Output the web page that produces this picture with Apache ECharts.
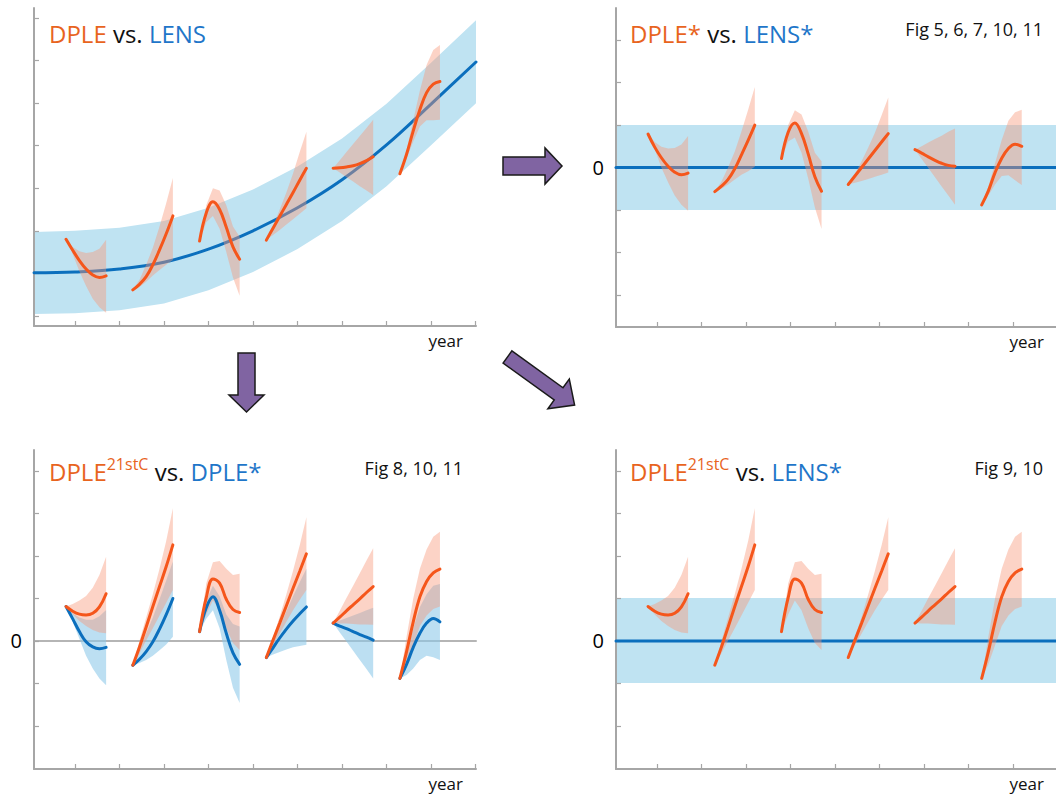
<!DOCTYPE html>
<html><head><meta charset="utf-8">
<script src="https://cdn.jsdelivr.net/npm/echarts@6/dist/echarts.min.js"></script>
<style>html,body{margin:0;padding:0;background:#fff}#c{width:1056px;height:794px}</style>
</head><body><div id="c"></div>
<script>
// ---------------- data ----------------
const segStart = [0.8, 2.3, 3.8, 5.3, 6.8, 8.3];
const segOffset = [0, 0.15, 0.3, 0.45, 0.6, 0.75, 0.9];

const xTicks = [1, 2, 3, 4, 5, 6, 7, 8, 9, 10];
const yTicks1 = [0, 1, 2, 3, 4, 5, 6, 7];
const yTicks2 = [-3, -2, -1, 0, 1, 2, 3];
const yTicks34 = [-2, -1, 0, 1, 2, 3, 4];

// Panel 1: LENS ensemble mean and spread
const lensX = [0.08, 1, 2, 3, 4, 5, 6, 7, 8, 9, 10.01];
const lensMean = [1.01, 1.03, 1.10, 1.26, 1.57, 2.00, 2.54, 3.20, 4.02, 4.98, 5.97];
const lensHi = [1.97, 2.00, 2.07, 2.23, 2.54, 2.97, 3.51, 4.17, 4.99, 5.95, 6.95];
const lensLo = [0.04, 0.06, 0.13, 0.29, 0.60, 1.03, 1.57, 2.23, 3.05, 4.01, 5.00];

// Panel 1: DPLE
const dpleMid = [
  [1.80, 1.54, 1.30, 1.10, 0.96, 0.90, 0.94],
  [0.61, 0.74, 0.92, 1.20, 1.55, 1.93, 2.35],
  [1.76, 2.42, 2.68, 2.50, 2.08, 1.62, 1.33],
  [1.78, 2.06, 2.34, 2.62, 2.90, 3.19, 3.47],
  [3.47, 3.48, 3.50, 3.53, 3.58, 3.65, 3.74],
  [3.34, 3.80, 4.35, 4.85, 5.25, 5.45, 5.51]
];
const dpleHi = [
  [1.80, 1.62, 1.52, 1.48, 1.50, 1.58, 1.79],
  [0.61, 0.85, 1.20, 1.60, 2.10, 2.65, 3.24],
  [1.76, 2.60, 3.00, 2.95, 2.60, 2.10, 1.86],
  [1.78, 2.10, 2.50, 2.90, 3.35, 3.85, 4.33],
  [3.47, 3.66, 3.85, 4.04, 4.23, 4.42, 4.61],
  [3.34, 3.90, 4.60, 5.30, 5.90, 6.25, 6.37]
];
const dpleLo = [
  [1.80, 1.45, 1.05, 0.70, 0.40, 0.20, 0.07],
  [0.61, 0.68, 0.80, 0.95, 1.08, 1.20, 1.31],
  [1.76, 2.20, 2.35, 2.05, 1.50, 0.90, 0.47],
  [1.78, 1.90, 2.02, 2.15, 2.27, 2.40, 2.53],
  [3.47, 3.37, 3.26, 3.16, 3.05, 2.95, 2.84],
  [3.34, 3.70, 4.10, 4.45, 4.60, 4.60, 4.61]
];

// Panel 2: DPLE* vs LENS*
const lensStarX = [0.08, 9.97];
const lensStarMean = [0, 0];
const lensStarHi = [1.0, 1.0];
const lensStarLo = [-1.0, -1.0];
const dpleStarMid = [
  [0.79, 0.48, 0.23, 0.03, -0.11, -0.17, -0.13],
  [-0.57, -0.44, -0.28, -0.03, 0.30, 0.64, 1.00],
  [0.21, 0.83, 1.05, 0.80, 0.32, -0.22, -0.56],
  [-0.40, -0.20, 0.00, 0.20, 0.40, 0.60, 0.80],
  [0.42, 0.34, 0.25, 0.17, 0.10, 0.05, 0.03],
  [-0.88, -0.55, -0.12, 0.22, 0.45, 0.55, 0.50]
];
const dpleStarHi = [
  [0.79, 0.60, 0.49, 0.45, 0.46, 0.54, 0.74],
  [-0.57, -0.33, 0.00, 0.38, 0.85, 1.36, 1.90],
  [0.21, 1.00, 1.35, 1.25, 0.85, 0.35, 0.15],
  [-0.40, -0.15, 0.15, 0.47, 0.82, 1.23, 1.65],
  [0.42, 0.50, 0.59, 0.67, 0.75, 0.84, 0.92],
  [-0.88, -0.45, 0.10, 0.65, 1.10, 1.30, 1.36]
];
const dpleStarLo = [
  [0.79, 0.43, 0.00, -0.35, -0.66, -0.88, -1.02],
  [-0.57, -0.50, -0.40, -0.28, -0.17, -0.09, 0.02],
  [0.21, 0.61, 0.71, 0.35, -0.26, -0.94, -1.45],
  [-0.40, -0.36, -0.32, -0.27, -0.22, -0.17, -0.12],
  [0.42, 0.20, -0.01, -0.23, -0.45, -0.66, -0.88],
  [-0.88, -0.66, -0.40, -0.20, -0.18, -0.30, -0.41]
];

// Panels 3 & 4: DPLE21stC
const d21Mid = [
  [0.81, 0.70, 0.63, 0.61, 0.65, 0.80, 1.11],
  [-0.57, -0.14, 0.33, 0.81, 1.28, 1.75, 2.26],
  [0.22, 1.02, 1.46, 1.36, 0.98, 0.74, 0.67],
  [-0.39, 0.02, 0.42, 0.83, 1.24, 1.64, 2.05],
  [0.42, 0.56, 0.71, 0.85, 0.99, 1.14, 1.28],
  [-0.88, -0.25, 0.45, 1.04, 1.40, 1.60, 1.69]
];
const d21Hi = [
  [0.81, 0.87, 0.95, 1.06, 1.25, 1.55, 1.98],
  [-0.57, 0.00, 0.55, 1.10, 1.70, 2.35, 3.12],
  [0.22, 1.35, 1.85, 1.88, 1.70, 1.55, 1.58],
  [-0.39, 0.08, 0.57, 1.10, 1.65, 2.25, 2.91],
  [0.42, 0.71, 1.01, 1.30, 1.59, 1.89, 2.18],
  [-0.88, 0.10, 1.00, 1.70, 2.15, 2.45, 2.57]
];
const d21Lo = [
  [0.81, 0.62, 0.47, 0.35, 0.26, 0.20, 0.18],
  [-0.57, -0.29, 0.01, 0.30, 0.60, 0.90, 1.20],
  [0.22, 0.62, 0.95, 0.72, 0.30, -0.05, -0.21],
  [-0.39, -0.10, 0.17, 0.45, 0.72, 0.97, 1.20],
  [0.42, 0.41, 0.41, 0.40, 0.39, 0.39, 0.38],
  [-0.88, -0.55, -0.10, 0.35, 0.60, 0.75, 0.81]
];

// Panel 3: DPLE* (blue)
const dsMid = [
  [0.81, 0.52, 0.22, -0.02, -0.14, -0.18, -0.15],
  [-0.57, -0.43, -0.25, -0.02, 0.28, 0.62, 1.00],
  [0.22, 0.78, 1.04, 0.72, 0.18, -0.28, -0.55],
  [-0.39, -0.16, 0.07, 0.28, 0.47, 0.64, 0.80],
  [0.42, 0.35, 0.29, 0.22, 0.15, 0.09, 0.02],
  [-0.88, -0.55, -0.15, 0.18, 0.42, 0.53, 0.45]
];
const dsHi = [
  [0.81, 0.65, 0.55, 0.50, 0.50, 0.58, 0.73],
  [-0.57, -0.20, 0.18, 0.55, 0.98, 1.42, 1.87],
  [0.22, 0.95, 1.30, 1.05, 0.62, 0.40, 0.34],
  [-0.39, -0.02, 0.33, 0.70, 1.05, 1.38, 1.70],
  [0.42, 0.48, 0.54, 0.60, 0.66, 0.72, 0.78],
  [-0.88, -0.30, 0.30, 0.80, 1.10, 1.30, 1.34]
];
const dsLo = [
  [0.81, 0.45, 0.05, -0.35, -0.65, -0.88, -1.04],
  [-0.57, -0.52, -0.45, -0.35, -0.22, -0.08, 0.10],
  [0.22, 0.52, 0.72, 0.30, -0.45, -1.10, -1.46],
  [-0.39, -0.32, -0.26, -0.20, -0.15, -0.12, -0.09],
  [0.42, 0.20, -0.01, -0.23, -0.45, -0.66, -0.88],
  [-0.88, -0.80, -0.65, -0.45, -0.35, -0.38, -0.45]
];

// Panel 4: LENS* band
const lens4X = [0.08, 9.97];
const lens4Mean = [0, 0];
const lens4Hi = [1.01, 1.01];
const lens4Lo = [-0.99, -0.99];
const zeroX = [0.08, 10.01];
const zeroY = [0, 0];

// ---------------- styles ----------------
const F = "'Open Sans', sans-serif";
const AX = '#a6a6a6';
const ORANGE = '#f5561b';
const BLUE = '#0b6fbd';
const BAND = '#bfe3f2';
const WEDGE_O = 'rgba(248,150,118,0.42)';
const WEDGE_B = 'rgba(140,200,232,0.58)';
const T_OR = '#e8641e', T_BL = '#1f76c9';

const grids = [
  {left: 34, top: 8, width: 442, height: 318},
  {left: 616, top: 8, width: 440, height: 319},
  {left: 34, top: 450, width: 442, height: 319},
  {left: 616, top: 450, width: 440, height: 319}
];
const xMax = [10.01, 9.97, 10.01, 9.97];
const yRange = [[-0.24, 7.24], [-3.76, 3.76], [-3.01, 4.49], [-3.01, 4.49]];
const yTickSets = [yTicks1, yTicks2, yTicks34, yTicks34];

const xAxes = grids.map((g, i) => ({
  type: 'value', gridIndex: i, min: 0.08, max: xMax[i], z: 2,
  axisLine: {onZero: false, lineStyle: {color: AX, width: 2}},
  axisTick: {show: true, inside: true, length: 5, customValues: xTicks, lineStyle: {color: AX, width: 1.2}},
  axisLabel: {show: false}, splitLine: {show: false},
  name: 'year', nameLocation: 'end', nameGap: (i % 2) ? -12 : -13,
  nameTextStyle: {fontFamily: F, fontSize: 17, color: '#111', align: 'right', verticalAlign: 'top', padding: [6, 0, 0, 0]}
}));
const yAxes = grids.map((g, i) => ({
  type: 'value', gridIndex: i, min: yRange[i][0], max: yRange[i][1], z: 2,
  axisLine: {onZero: false, lineStyle: {color: AX, width: 2}},
  axisTick: {show: true, inside: true, length: 5, customValues: yTickSets[i], lineStyle: {color: AX, width: 1.2}},
  axisLabel: i === 0 ? {show: false} : {show: true, customValues: [0], fontFamily: F, fontSize: 20, color: '#000', margin: 12},
  splitLine: {show: false}
}));

function bandSeries(gi, xs, hi, lo, color, z) {
  return {
    type: 'custom', xAxisIndex: gi, yAxisIndex: gi, z, silent: true, animation: false,
    data: xs.map((x, k) => [x, lo[k], hi[k]]),
    renderItem(params, api) {
      if (params.dataIndex !== 0) return null;
      const pts = [];
      for (let k = 0; k < xs.length; k++) pts.push(api.coord([xs[k], hi[k]]));
      for (let k = xs.length - 1; k >= 0; k--) pts.push(api.coord([xs[k], lo[k]]));
      return {type: 'polygon', shape: {points: pts}, style: {fill: color}};
    }
  };
}
function wedgeSeries(gi, hi, lo, color, z) {
  return {
    type: 'custom', xAxisIndex: gi, yAxisIndex: gi, z, silent: true, animation: false,
    data: segStart.map((s, i) => [s, i]),
    renderItem(params, api) {
      const s = api.value(0), i = api.value(1);
      const pts = [];
      segOffset.forEach((o, k) => pts.push(api.coord([s + o, hi[i][k]])));
      for (let k = segOffset.length - 1; k >= 0; k--) pts.push(api.coord([s + segOffset[k], lo[i][k]]));
      return {type: 'polygon', shape: {points: pts}, style: {fill: color}};
    }
  };
}
function lineSeries(gi, xs, ys, color, width, z, smooth) {
  return {
    type: 'line', xAxisIndex: gi, yAxisIndex: gi, z, silent: true, animation: false,
    symbol: 'none', smooth: smooth, lineStyle: {color, width, cap: 'round'},
    data: xs.map((x, k) => [x, ys[k]])
  };
}
function segLines(gi, mid, color, z) {
  return mid.map((ys, i) => lineSeries(gi, segOffset.map(o => segStart[i] + o), ys, color, 3, z, 0.4));
}

const series = [
  // panel 1
  bandSeries(0, lensX, lensHi, lensLo, BAND, 1),
  lineSeries(0, lensX, lensMean, BLUE, 3, 3, 0.4),
  wedgeSeries(0, dpleHi, dpleLo, WEDGE_O, 4),
  ...segLines(0, dpleMid, ORANGE, 6),
  // panel 2
  bandSeries(1, lensStarX, lensStarHi, lensStarLo, BAND, 1),
  lineSeries(1, lensStarX, lensStarMean, BLUE, 3, 3, false),
  wedgeSeries(1, dpleStarHi, dpleStarLo, WEDGE_O, 4),
  ...segLines(1, dpleStarMid, ORANGE, 6),
  // panel 3
  lineSeries(2, zeroX, zeroY, '#b5b5b5', 2, 1, false),
  wedgeSeries(2, dsHi, dsLo, WEDGE_B, 3),
  wedgeSeries(2, d21Hi, d21Lo, WEDGE_O, 4),
  ...segLines(2, dsMid, BLUE, 5),
  ...segLines(2, d21Mid, ORANGE, 6),
  // panel 4
  bandSeries(3, lens4X, lens4Hi, lens4Lo, BAND, 1),
  lineSeries(3, lens4X, lens4Mean, BLUE, 3, 3, false),
  wedgeSeries(3, d21Hi, d21Lo, WEDGE_O, 4),
  ...segLines(3, d21Mid, ORANGE, 6)
];

const rich = {
  o: {color: T_OR, fontSize: 24, fontFamily: F, lineHeight: 30},
  s: {color: T_OR, fontSize: 16, fontFamily: F, lineHeight: 24, verticalAlign: 'top'},
  k: {color: '#111', fontSize: 24, fontFamily: F, lineHeight: 30},
  b: {color: T_BL, fontSize: 24, fontFamily: F, lineHeight: 30}
};
const tStyle = {fontFamily: F, fontSize: 24, fontWeight: 'normal', lineHeight: 30, color: '#111', rich};
const fStyle = {fontFamily: F, fontSize: 18, fontWeight: 'normal', lineHeight: 24, color: '#111'};

const title = [
  {left: 49, top: 18, padding: 0, text: '{o|DPLE} {k|vs.} {b|LENS}', textStyle: tStyle},
  {left: 630, top: 18, padding: 0, text: '{o|DPLE*} {k|vs.} {b|LENS*}', textStyle: tStyle},
  {left: 49, top: 456, padding: 0, text: '{o|DPLE}{s|21stC} {k|vs.} {b|DPLE*}', textStyle: tStyle},
  {left: 630, top: 456, padding: 0, text: '{o|DPLE}{s|21stC} {k|vs.} {b|LENS*}', textStyle: tStyle},
  {right: 13, top: 17, padding: 0, text: 'Fig 5, 6, 7, 10, 11', textStyle: fStyle},
  {right: 593, top: 456, padding: 0, text: 'Fig 8, 10, 11', textStyle: fStyle},
  {right: 13, top: 456, padding: 0, text: 'Fig 9, 10', textStyle: fStyle}
];

const arrowStyle = {fill: '#8064a2', stroke: '#1a1a1a', lineWidth: 1.5};
const graphic = [
  {type: 'polygon', shape: {points: [[503,157],[545,157],[545,148],[562,166],[545,184],[545,175],[503,175]]}, style: arrowStyle},
  {type: 'polygon', shape: {points: [[238,353],[255,353],[255,395],[264,395],[246.5,412],[229,395],[238,395]]}, style: arrowStyle},
  {type: 'polygon', shape: {points: [[511.9,350.9],[563,387.8],[569.3,379.1],[574.6,405],[547.9,408.7],[554.2,400],[503.1,363.1]]}, style: arrowStyle}
];

const chart = echarts.init(document.getElementById('c'), null, {renderer: 'svg'});
chart.setOption({
  animation: false,
  backgroundColor: '#fff',
  title, graphic,
  grid: grids,
  xAxis: xAxes,
  yAxis: yAxes,
  series
});
</script>
</body></html>
